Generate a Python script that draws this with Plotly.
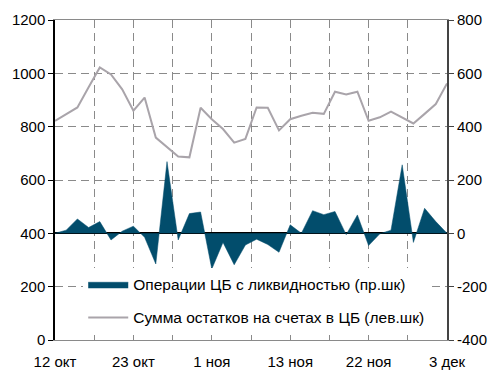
import plotly.graph_objects as go

# Trading-day index (0..35) with date labels every 7 sessions
x_ticks = [0, 7, 14, 21, 28, 35]
x_labels = ["12 окт", "23 окт", "1 ноя", "13 ноя", "22 ноя", "3 дек"]

# Right-scale ticks, written with a plain hyphen for negatives
y2_ticks = [-400, -200, 0, 200, 400, 600, 800]
y2_labels = ["-400", "-200", "0", "200", "400", "600", "800"]

# CB liquidity operations (right scale)
cb_operations = [0, 12, 54, 22, 44, -25, 8, 27, -15, -115, 269, -25,
                 74, 80, -134, -34, -118, -44, -22, -42, -71, 32, 0, 85,
                 70, 82, -5, 69, -46, -2, 12, 257, -34, 94, 44, 0]

# Total balances on CB accounts (left scale)
cb_balances = [822, 847, 872, 948, 1022, 996, 940, 860, 909, 759, 723, 688,
               685, 871, 828, 791, 740, 754, 872, 871, 786, 828, 841, 852,
               848, 931, 921, 931, 822, 835, 856, 835, 812, 848, 885, 962]

name_ops = "Операции ЦБ с ликвидностью (пр.шк)"
name_bal = "Сумма остатков на счетах в ЦБ (лев.шк)"

n = list(range(len(cb_balances)))

fig = go.Figure()
fig.add_trace(go.Scatter(
    x=n, y=cb_operations, yaxis="y2", name=name_ops, legendgroup="a",
    mode="lines", fill="tozeroy", fillcolor="#024d6c",
    line=dict(color="#024d6c", width=0.5),
))
fig.add_trace(go.Scatter(
    x=n, y=cb_balances, yaxis="y", name=name_bal, legendgroup="b",
    mode="lines", line=dict(color="#a9a4aa", width=2),
))

# gridlines every 3.5 sessions, labels on every second one
grid_vals = [i * 3.5 for i in range(11)]
grid_text = [x_labels[i // 2] if i % 2 == 0 else "" for i in range(11)]

font = "Liberation Sans, Arial, Helvetica, sans-serif"

fig.update_layout(
    width=494, height=372,
    margin=dict(l=55, r=47, t=20, b=32),
    paper_bgcolor="white", plot_bgcolor="white",
    font=dict(family=font, size=15, color="black"),
    showlegend=True,
    legend=dict(
        x=0.072, y=0.226, xanchor="left", yanchor="top",
        bgcolor="white", font=dict(size=15.5),
        traceorder="grouped", tracegroupgap=10, itemwidth=40,
    ),
    xaxis=dict(
        range=[0, 35], tickvals=grid_vals, ticktext=grid_text,
        showgrid=True, gridcolor="#8a8a8a", griddash="8px,5px", gridwidth=1,
        ticks="inside", ticklen=5, tickcolor="#8a8a8a",
        ticklabelstandoff=8, automargin=False,
        showline=True, linecolor="#8a8a8a", linewidth=1, mirror="ticks",
        zeroline=False, fixedrange=True,
    ),
    yaxis=dict(
        range=[0, 1200], dtick=200, tick0=0, automargin=False,
        showgrid=True, gridcolor="#8a8a8a", griddash="8px,5px", gridwidth=1,
        ticks="outside", ticklen=5, tickcolor="black",
        showline=True, linecolor="black", linewidth=1.5,
        zeroline=False,
    ),
    yaxis2=dict(
        range=[-400, 800], tickvals=y2_ticks, ticktext=y2_labels,
        overlaying="y", side="right", automargin=False,
        showgrid=False, ticks="outside", ticklen=5, tickcolor="#444",
        showline=True, linecolor="#444", linewidth=2,
        zeroline=True, zerolinecolor="black", zerolinewidth=1.5,
    ),
)

fig.write_html("out.html")
